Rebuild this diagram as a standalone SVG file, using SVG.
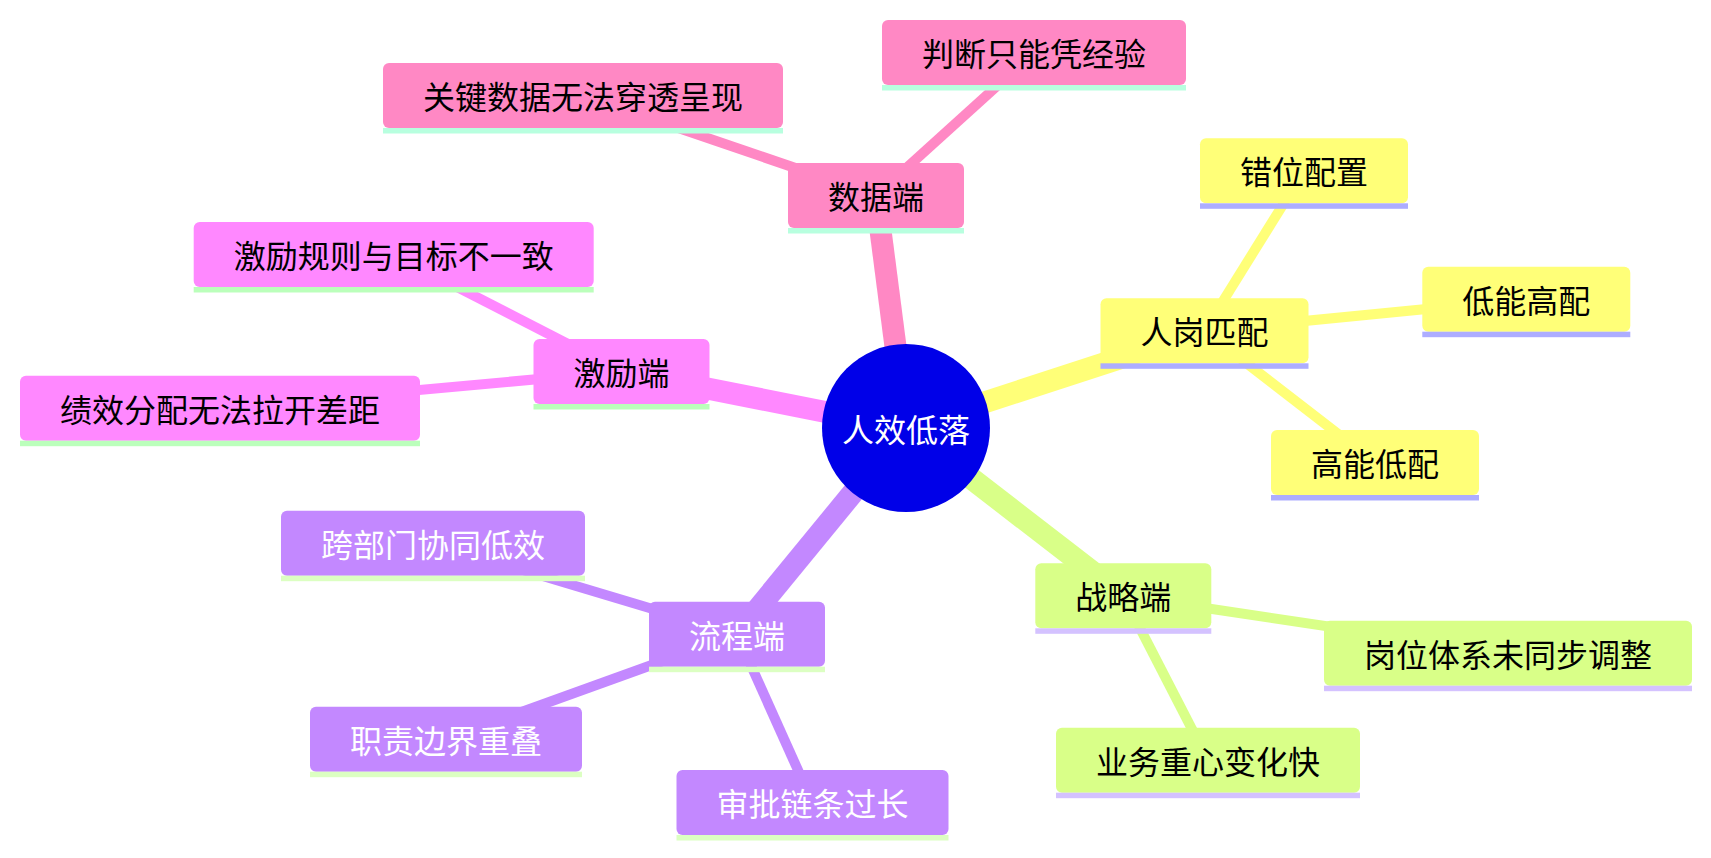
<svg xmlns="http://www.w3.org/2000/svg" width="1711" height="858" viewBox="0 0 1711 858">
<style>
  text { font-family: "Noto Sans CJK SC", "Noto Sans", sans-serif; font-size: 32px; text-anchor: middle; fill: #000; }
  .e0 { fill: none; stroke-width: 22; stroke-linecap: butt; }
  .e1 { fill: none; stroke-width: 10; stroke-linecap: butt; }
  .s0 .b { fill: #FFFF78; } .s0 .u { fill: #ADADFF; } .c0 { stroke: #FFFF78; }
  .s1 .b { fill: #D9FF88; } .s1 .u { fill: #D4C2FF; } .c1 { stroke: #D9FF88; }
  .s2 .b { fill: #C388FF; } .s2 .u { fill: #DCFFC2; } .c2 { stroke: #C388FF; }
  .s2 text { fill: #FFFFFF; }
  .s3 .b { fill: #FF88FF; } .s3 .u { fill: #BBFFBB; } .c3 { stroke: #FF88FF; }
  .s4 .b { fill: #FF88C4; } .s4 .u { fill: #B8FFDF; } .c4 { stroke: #FF88C4; }
</style>
<rect width="1711" height="858" fill="#FFFFFF"/>
<g id="connectors">
  <line class="e0 c0" x1="906" y1="428" x2="1204.5" y2="330.8"/>
  <line class="e0 c1" x1="906" y1="428" x2="1123.3" y2="595.8"/>
  <line class="e0 c2" x1="906" y1="428" x2="737" y2="634.2"/>
  <line class="e0 c3" x1="906" y1="428" x2="621.5" y2="371.5"/>
  <line class="e0 c4" x1="906" y1="428" x2="876" y2="195.5"/>
  <line class="e1 c0" x1="1204.5" y1="330.8" x2="1304" y2="170.8"/>
  <line class="e1 c0" x1="1204.5" y1="330.8" x2="1526.3" y2="299.2"/>
  <line class="e1 c0" x1="1204.5" y1="330.8" x2="1375" y2="462.5"/>
  <line class="e1 c1" x1="1123.3" y1="595.8" x2="1508" y2="653.2"/>
  <line class="e1 c1" x1="1123.3" y1="595.8" x2="1208" y2="760.2"/>
  <line class="e1 c2" x1="737" y1="634.2" x2="433" y2="543.2"/>
  <line class="e1 c2" x1="737" y1="634.2" x2="446" y2="739.2"/>
  <line class="e1 c2" x1="737" y1="634.2" x2="812.5" y2="802.5"/>
  <line class="e1 c3" x1="621.5" y1="371.5" x2="393.7" y2="254.5"/>
  <line class="e1 c3" x1="621.5" y1="371.5" x2="220" y2="408.2"/>
  <line class="e1 c4" x1="876" y1="195.5" x2="583" y2="95.5"/>
  <line class="e1 c4" x1="876" y1="195.5" x2="1034" y2="52.5"/>
</g>
<g id="root">
  <circle cx="906" cy="428" r="84" fill="#0000E8"/>
  <text x="906" y="441.5" style="fill:#FFFFFF">人效低落</text>
</g>
<g id="n-rengang" class="s0" transform="translate(1100.5,298.3)"><rect class="b" width="208" height="65" rx="6"/><rect class="u" y="65" width="208" height="5.5"/><text x="104" y="46">人岗匹配</text></g>
<g id="n-cuowei" class="s0" transform="translate(1200,138.3)"><rect class="b" width="208" height="65" rx="6"/><rect class="u" y="65" width="208" height="5.5"/><text x="104" y="46">错位配置</text></g>
<g id="n-dineng" class="s0" transform="translate(1422.3,266.7)"><rect class="b" width="208" height="65" rx="6"/><rect class="u" y="65" width="208" height="5.5"/><text x="104" y="46">低能高配</text></g>
<g id="n-gaoneng" class="s0" transform="translate(1271,430)"><rect class="b" width="208" height="65" rx="6"/><rect class="u" y="65" width="208" height="5.5"/><text x="104" y="46">高能低配</text></g>
<g id="n-zhanlue" class="s1" transform="translate(1035.3,563.3)"><rect class="b" width="176" height="65" rx="6"/><rect class="u" y="65" width="176" height="5.5"/><text x="88" y="46">战略端</text></g>
<g id="n-gangwei" class="s1" transform="translate(1324,620.7)"><rect class="b" width="368" height="65" rx="6"/><rect class="u" y="65" width="368" height="5.5"/><text x="184" y="46">岗位体系未同步调整</text></g>
<g id="n-yewu" class="s1" transform="translate(1056,727.7)"><rect class="b" width="304" height="65" rx="6"/><rect class="u" y="65" width="304" height="5.5"/><text x="152" y="46">业务重心变化快</text></g>
<g id="n-liucheng" class="s2" transform="translate(649,601.7)"><rect class="b" width="176" height="65" rx="6"/><rect class="u" y="65" width="176" height="5.5"/><text x="88" y="46">流程端</text></g>
<g id="n-kuabumen" class="s2" transform="translate(281,510.7)"><rect class="b" width="304" height="65" rx="6"/><rect class="u" y="65" width="304" height="5.5"/><text x="152" y="46">跨部门协同低效</text></g>
<g id="n-zhize" class="s2" transform="translate(310,706.7)"><rect class="b" width="272" height="65" rx="6"/><rect class="u" y="65" width="272" height="5.5"/><text x="136" y="46">职责边界重叠</text></g>
<g id="n-shenpi" class="s2" transform="translate(676.5,770)"><rect class="b" width="272" height="65" rx="6"/><rect class="u" y="65" width="272" height="5.5"/><text x="136" y="46">审批链条过长</text></g>
<g id="n-jili" class="s3" transform="translate(533.5,339)"><rect class="b" width="176" height="65" rx="6"/><rect class="u" y="65" width="176" height="5.5"/><text x="88" y="46">激励端</text></g>
<g id="n-jiliguize" class="s3" transform="translate(193.7,222)"><rect class="b" width="400" height="65" rx="6"/><rect class="u" y="65" width="400" height="5.5"/><text x="200" y="46">激励规则与目标不一致</text></g>
<g id="n-jixiao" class="s3" transform="translate(20,375.7)"><rect class="b" width="400" height="65" rx="6"/><rect class="u" y="65" width="400" height="5.5"/><text x="200" y="46">绩效分配无法拉开差距</text></g>
<g id="n-shuju" class="s4" transform="translate(788,163)"><rect class="b" width="176" height="65" rx="6"/><rect class="u" y="65" width="176" height="5.5"/><text x="88" y="46">数据端</text></g>
<g id="n-guanjian" class="s4" transform="translate(383,63)"><rect class="b" width="400" height="65" rx="6"/><rect class="u" y="65" width="400" height="5.5"/><text x="200" y="46">关键数据无法穿透呈现</text></g>
<g id="n-panduan" class="s4" transform="translate(882,20)"><rect class="b" width="304" height="65" rx="6"/><rect class="u" y="65" width="304" height="5.5"/><text x="152" y="46">判断只能凭经验</text></g>
</svg>
